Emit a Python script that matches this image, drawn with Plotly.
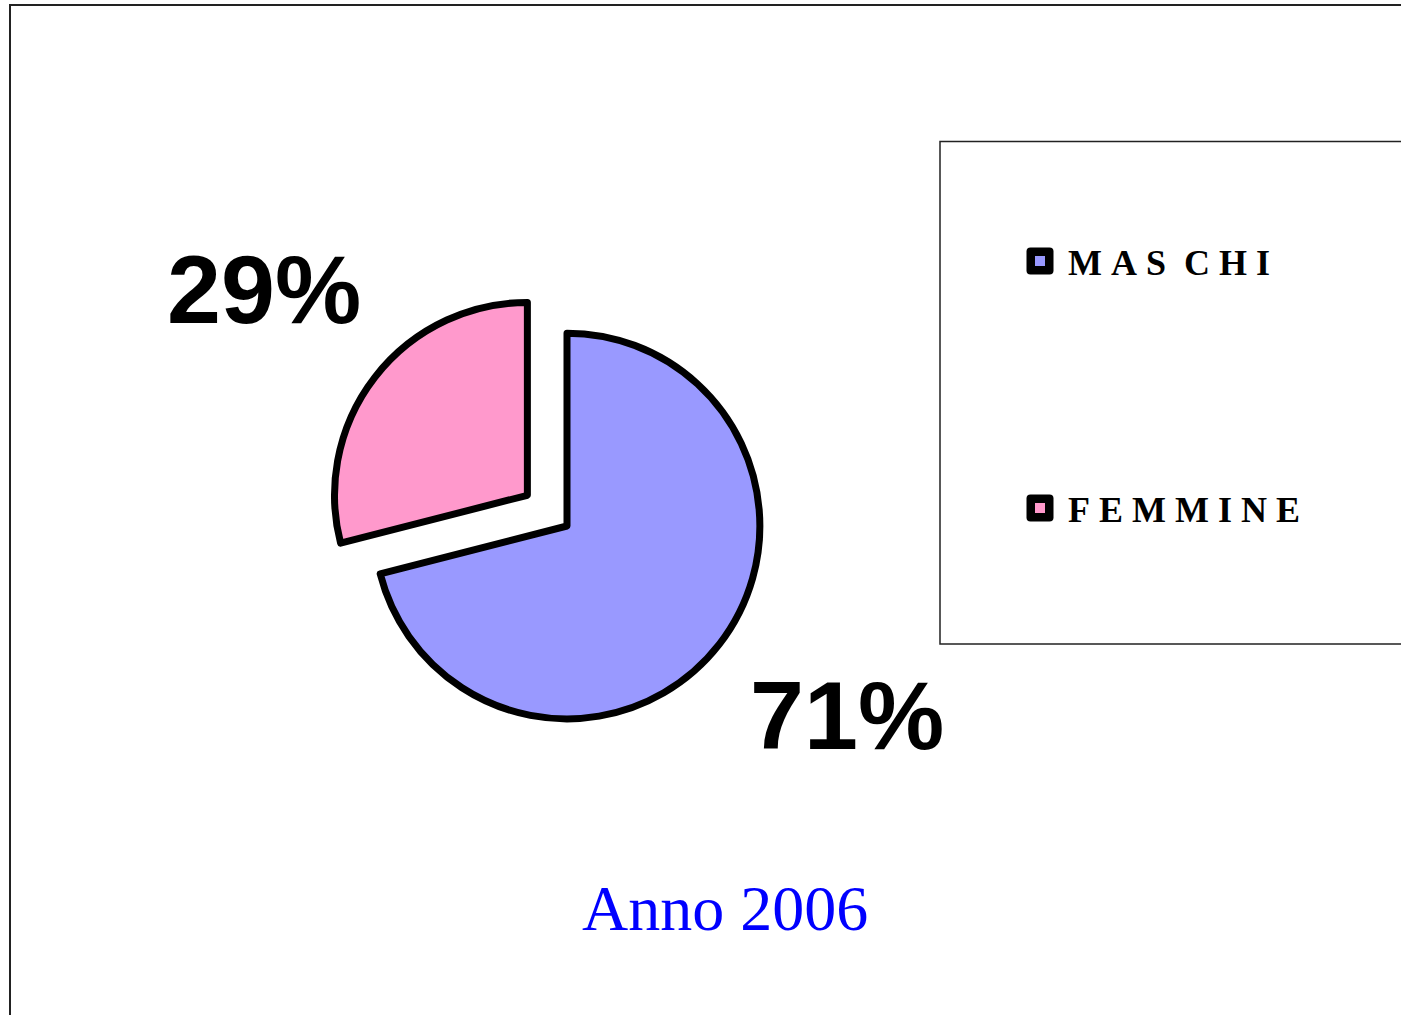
import plotly.graph_objects as go

W, H = 1401, 1015

categories = ["MASCHI", "FEMMINE"]
legend_labels = ["M A S  C H I", "F E M M I N E"]
values = [71, 29]
colors = ["#9999FF", "#FF99CC"]
pulls = [0, 0.26]
title_text = "Anno 2006"


def px(x):
    return x / W


def py(y):
    return 1 - y / H


fig = go.Figure()
fig.add_trace(go.Pie(
    labels=categories,
    values=values,
    sort=False,
    direction="clockwise",
    rotation=0,
    pull=pulls,
    textinfo="none",
    hoverinfo="label+percent",
    marker=dict(colors=colors, line=dict(color="black", width=7)),
    domain=dict(x=[px(324), px(810)], y=[py(769), py(283)]),
    showlegend=False,
))

total = sum(values)
label_pos = [(847, 715), (264, 289)]
annotations = []
for v, (lx, ly) in zip(values, label_pos):
    annotations.append(dict(
        x=px(lx), y=py(ly), xref="paper", yref="paper",
        text=f"<b>{round(v / total * 100)}%</b>", showarrow=False,
        font=dict(family="Liberation Sans, Arial", size=97, color="black"),
        xanchor="center", yanchor="middle",
    ))

# title
annotations.append(dict(
    x=px(725), y=py(908), xref="paper", yref="paper",
    text=title_text, showarrow=False,
    font=dict(family="Liberation Serif, Times New Roman", size=64, color="#0000FF"),
    xanchor="center", yanchor="middle",
))

shapes = [
    # outer frame
    dict(type="rect", xref="paper", yref="paper",
         x0=px(10), x1=px(1420), y0=py(5), y1=py(1030),
         line=dict(color="#222222", width=2), fillcolor="rgba(0,0,0,0)", layer="below"),
    # legend box
    dict(type="rect", xref="paper", yref="paper",
         x0=px(940), x1=px(1420), y0=py(141.5), y1=py(644),
         line=dict(color="#222222", width=1.5), fillcolor="rgba(0,0,0,0)"),
]


def rounded_square(cx, cy, half, rad):
    x0, x1 = cx - half, cx + half
    y0, y1 = cy - half, cy + half
    pts = [
        f"M {px(x0 + rad)} {py(y0)}",
        f"L {px(x1 - rad)} {py(y0)}",
        f"Q {px(x1)} {py(y0)} {px(x1)} {py(y0 + rad)}",
        f"L {px(x1)} {py(y1 - rad)}",
        f"Q {px(x1)} {py(y1)} {px(x1 - rad)} {py(y1)}",
        f"L {px(x0 + rad)} {py(y1)}",
        f"Q {px(x0)} {py(y1)} {px(x0)} {py(y1 - rad)}",
        f"L {px(x0)} {py(y0 + rad)}",
        f"Q {px(x0)} {py(y0)} {px(x0 + rad)} {py(y0)}",
        "Z",
    ]
    return " ".join(pts)


legend_y = [261, 508]
for lab, col, ly in zip(legend_labels, colors, legend_y):
    shapes.append(dict(
        type="path", xref="paper", yref="paper",
        path=rounded_square(1040, ly, 13.5, 4),
        line=dict(width=0), fillcolor="black",
    ))
    shapes.append(dict(
        type="rect", xref="paper", yref="paper",
        x0=px(1035), x1=px(1045), y0=py(ly - 5), y1=py(ly + 5),
        line=dict(width=0), fillcolor=col,
    ))
    annotations.append(dict(
        x=px(1066), y=py(ly + 2), xref="paper", yref="paper",
        text=f"<b>{lab.replace(' ', '&nbsp;')}</b>", showarrow=False,
        font=dict(family="Liberation Serif, Times New Roman", size=36, color="black"),
        xanchor="left", yanchor="middle",
    ))

fig.update_layout(
    width=W, height=H,
    margin=dict(l=0, r=0, t=0, b=0),
    paper_bgcolor="white",
    plot_bgcolor="white",
    annotations=annotations,
    shapes=shapes,
)

fig.write_html(
    "out.html",
    config={"displayModeBar": False},
    post_script="document.body.style.margin='0';document.body.style.overflow='hidden';",
)
